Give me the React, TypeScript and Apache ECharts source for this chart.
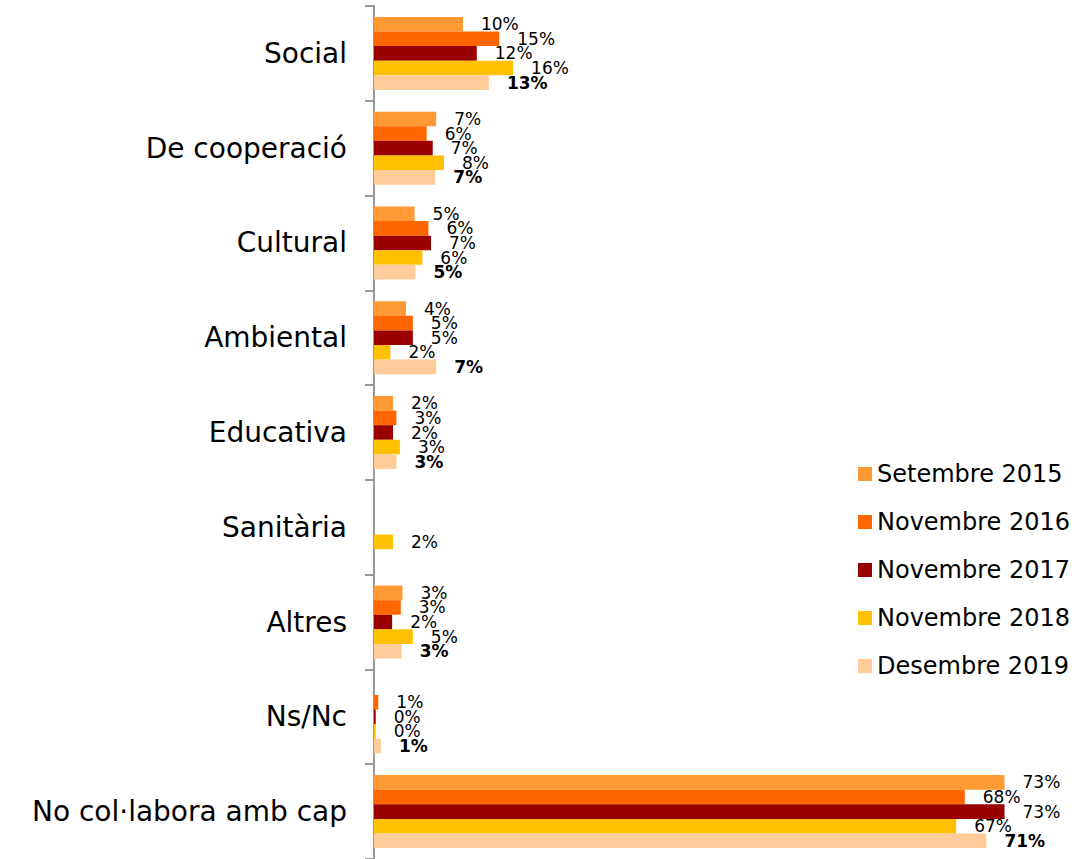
import React, { useEffect, useRef } from "react";
import * as echarts from "echarts";

const categories = [
  "Social",
  "De cooperació",
  "Cultural",
  "Ambiental",
  "Educativa",
  "Sanitària",
  "Altres",
  "Ns/Nc",
  "No col·labora amb cap",
];

const seriesNames = [
  "Setembre 2015",
  "Novembre 2016",
  "Novembre 2017",
  "Novembre 2018",
  "Desembre 2019",
];

const set2015 = [10.3, 7.2, 4.7, 3.7, 2.2, null, 3.3, null, 73.0];
const nov2016 = [14.5, 6.1, 6.3, 4.5, 2.6, null, 3.1, 0.5, 68.4];
const nov2017 = [11.9, 6.8, 6.6, 4.5, 2.2, null, 2.1, 0.2, 73.0];
const nov2018 = [16.1, 8.1, 5.6, 1.9, 3.0, 2.2, 4.5, 0.2, 67.4];
const des2019 = [13.3, 7.1, 4.8, 7.2, 2.6, null, 3.2, 0.8, 70.9];

const seriesValues = [set2015, nov2016, nov2017, nov2018, des2019];
const colors = ["#FF9933", "#FF6600", "#990000", "#FFC000", "#FFCC99"];

const FONT = "'DejaVu Sans', sans-serif";

export default function App() {
  const ref = useRef<HTMLDivElement>(null);

  useEffect(() => {
    document.body.style.margin = "0";
    if (!ref.current) return;
    const chart = echarts.init(ref.current, null, { renderer: "svg" });
    const axisColor = "#999999";
    chart.setOption({
      animation: false,
      backgroundColor: "#ffffff",
      grid: { left: 374, top: 6, width: 691, height: 855, containLabel: false },
      legend: {
        orient: "vertical",
        left: 858,
        top: 462,
        padding: 0,
        itemWidth: 14,
        itemHeight: 14,
        itemGap: 24,
        icon: "rect",
        data: seriesNames,
        textStyle: { fontFamily: FONT, fontSize: 24, lineHeight: 24, color: "#000" },
      },
      xAxis: {
        type: "value",
        min: 0,
        max: 80,
        show: false,
      },
      yAxis: {
        type: "category",
        inverse: true,
        data: categories,
        axisLine: { show: true, lineStyle: { color: axisColor, width: 2 } },
        axisTick: { show: true, length: 9, lineStyle: { color: axisColor, width: 2 } },
        axisLabel: { fontFamily: FONT, fontSize: 28, color: "#000", margin: 27 },
        splitLine: { show: false },
      },
      series: seriesNames.map((name, i) => ({
        name,
        type: "bar",
        data: seriesValues[i],
        barGap: "0%",
        barCategoryGap: "23%",
        itemStyle: { color: colors[i] },
        label: {
          show: true,
          position: "right",
          distance: 18,
          fontFamily: FONT,
          fontSize: 17,
          fontWeight: i === 4 ? "bold" : "normal",
          color: "#000",
          formatter: (p: any) =>
            p.value == null ? "" : Math.round(p.value) + "%",
        },
      })),
    });
    return () => chart.dispose();
  }, []);

  return <div ref={ref} style={{ width: 1081, height: 859 }} />;
}
